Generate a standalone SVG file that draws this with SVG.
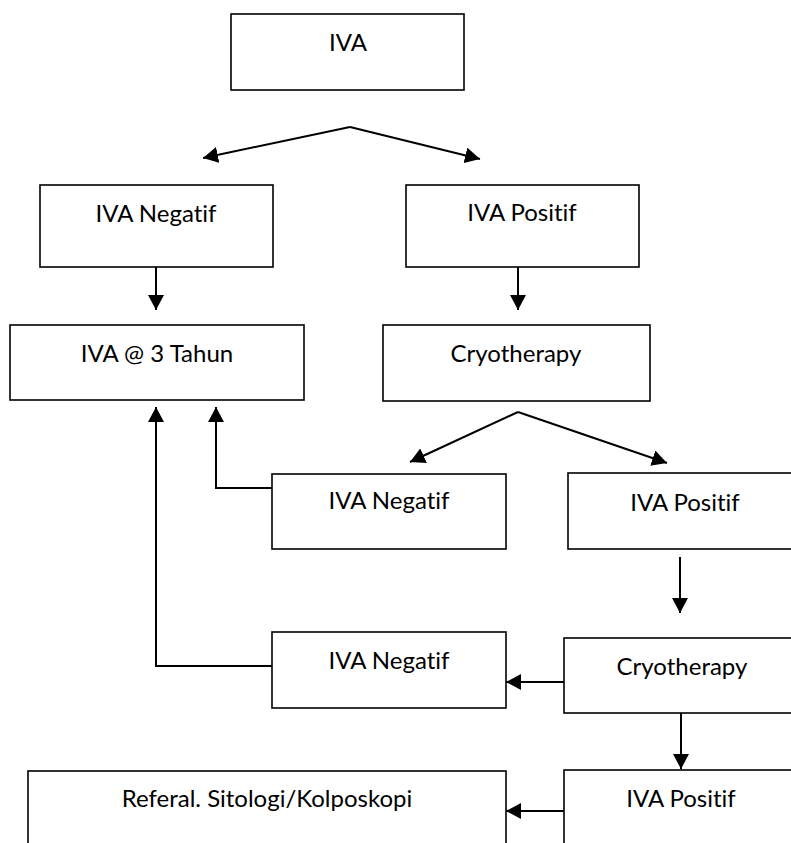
<svg xmlns="http://www.w3.org/2000/svg" width="791" height="843" viewBox="0 0 791 843">
  <style>
    .box { fill: #ffffff; stroke: #000000; stroke-width: 1.6; }
    .label { font-family: Lato, "Open Sans", "Liberation Sans", sans-serif; font-size: 24px; fill: #000000; text-anchor: middle; font-variant-ligatures: none; font-feature-settings: "liga" 0; }
    .link { fill: none; stroke: #000000; stroke-width: 2; marker-end: url(#arrow); }
  </style>
  <defs>
    <marker id="arrow" viewBox="0 0 15 16" refX="15" refY="8" markerWidth="15" markerHeight="16" markerUnits="userSpaceOnUse" orient="auto">
      <path d="M0,0 L15,8 L0,16 z" fill="#000000"/>
    </marker>
  </defs>
  <rect width="791" height="843" fill="#ffffff"/>

  <g id="connectors">
    <line class="link" x1="350" y1="127" x2="203" y2="158"/>
    <line class="link" x1="350" y1="127" x2="480" y2="159"/>
    <line class="link" x1="156" y1="267" x2="156" y2="310"/>
    <line class="link" x1="518" y1="267" x2="518" y2="310"/>
    <line class="link" x1="518" y1="412" x2="410" y2="462"/>
    <line class="link" x1="518" y1="412" x2="667" y2="463"/>
    <polyline class="link" points="272,488 216,488 216,407"/>
    <polyline class="link" points="272,666 156,666 156,407"/>
    <line class="link" x1="680" y1="557" x2="680" y2="613"/>
    <line class="link" x1="564" y1="682" x2="506" y2="682"/>
    <line class="link" x1="681" y1="713" x2="681" y2="769"/>
    <line class="link" x1="567" y1="811" x2="506" y2="811"/>
  </g>

  <g id="iva">
    <rect class="box" x="231" y="14" width="233" height="76"/>
    <text class="label" x="348" y="51">IVA</text>
  </g>
  <g id="iva-negatif-1">
    <rect class="box" x="40" y="185" width="233" height="82"/>
    <text class="label" x="156" y="222">IVA Negatif</text>
  </g>
  <g id="iva-positif-1">
    <rect class="box" x="406" y="185" width="233" height="82"/>
    <text class="label" x="522" y="221">IVA Positif</text>
  </g>
  <g id="iva-3-tahun">
    <rect class="box" x="10" y="325" width="294" height="75"/>
    <text class="label" x="157" y="362">IVA @ 3 Tahun</text>
  </g>
  <g id="cryotherapy-1">
    <rect class="box" x="383" y="325" width="267" height="76"/>
    <text class="label" x="516" y="362">Cryotherapy</text>
  </g>
  <g id="iva-negatif-2">
    <rect class="box" x="272" y="474" width="234" height="75"/>
    <text class="label" x="389" y="509">IVA Negatif</text>
  </g>
  <g id="iva-positif-2">
    <rect class="box" x="568" y="473" width="230" height="76"/>
    <text class="label" x="685" y="511">IVA Positif</text>
  </g>
  <g id="iva-negatif-3">
    <rect class="box" x="272" y="632" width="234" height="76"/>
    <text class="label" x="389" y="669">IVA Negatif</text>
  </g>
  <g id="cryotherapy-2">
    <rect class="box" x="564" y="638" width="234" height="75"/>
    <text class="label" x="682" y="675">Cryotherapy</text>
  </g>
  <g id="iva-positif-3">
    <rect class="box" x="564" y="770" width="234" height="90"/>
    <text class="label" x="681" y="807">IVA Positif</text>
  </g>
  <g id="referal">
    <rect class="box" x="28" y="771" width="478" height="90"/>
    <text class="label" x="267" y="807">Referal. Sitologi/Kolposkopi</text>
  </g>
</svg>
